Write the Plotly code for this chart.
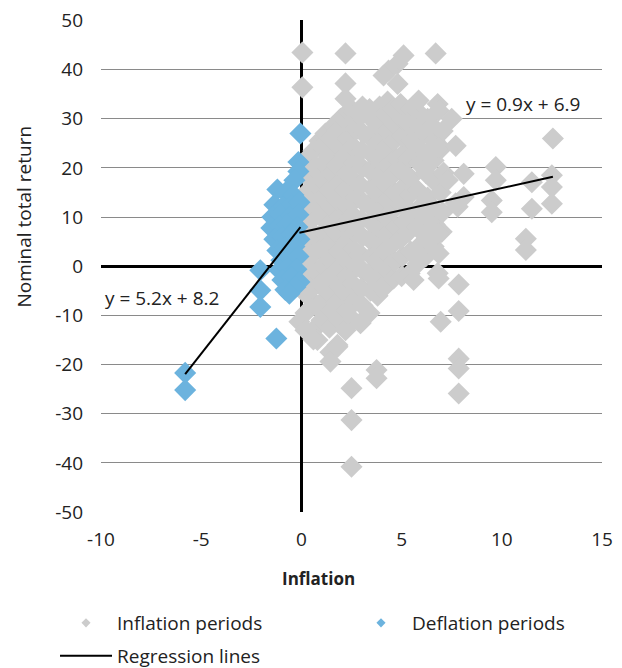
import plotly.graph_objects as go

# ---------------- data ----------------
inflation_x = [
    0.2, 0.3, 0.1, 0.25, 0.2, 0.3, 0.15, 0.25, 0.2, 0.3,
    0.6, 0.7, 0.55, 0.65, 0.6, 0.7, 0.55, 0.6, 0.7, 0.65, 0.6, 0.9,
    0.8, 1.0, 1.1, 0.95, 1.05, 1.0, 1.1, 0.95, 1.05, 1.0, 1.1, 1.0, 1.2,
    1.45, 1.4, 1.5, 1.35, 1.45, 1.4, 1.5, 1.35, 1.45, 1.4, 1.5, 1.35, 1.45, 1.6,
    1.8, 1.85, 1.75, 1.9, 1.8, 1.85, 1.75, 1.9, 1.8, 1.85, 1.75, 1.9, 1.8, 1.95,
    2.2, 2.25, 2.15, 2.3, 2.2, 2.25, 2.15, 2.3, 2.2, 2.25, 2.15, 2.3, 2.2, 2.35,
    2.6, 2.65, 2.55, 2.7, 2.6, 2.65, 2.55, 2.7, 2.6, 2.65, 2.55, 2.7, 2.6,
    2.95, 3.05, 3.0, 3.1, 2.95, 3.05, 3.0, 3.1, 2.95, 3.05, 3.0, 3.1, 2.95, 3.05,
    3.4, 3.45, 3.35, 3.5, 3.4, 3.45, 3.35, 3.5, 3.4, 3.45, 3.35, 3.5, 3.4,
    3.8, 3.85, 3.75, 3.9, 3.8, 3.85, 3.75, 3.9, 3.8, 3.85, 3.75, 3.9,
    4.2, 4.25, 4.15, 4.3, 4.2, 4.25, 4.15, 4.3, 4.2, 4.25, 4.15, 4.3,
    4.6, 4.65, 4.55, 4.7, 4.6, 4.65, 4.55, 4.7, 4.6, 4.65, 4.55,
    5.0, 5.05, 4.95, 5.1, 5.0, 5.05, 4.95, 5.1, 5.0, 5.05, 4.95,
    5.4, 5.45, 5.35, 5.5, 5.4, 5.45, 5.35, 5.5, 5.4, 5.45,
    5.8, 5.85, 5.75, 5.9, 5.8, 5.85, 5.75, 5.9, 5.8,
    6.2, 6.25, 6.15, 6.3, 6.2, 6.25, 6.15, 6.3,
    6.6, 6.65, 6.55, 6.7, 6.6, 6.65, 6.55,
    7.0, 7.05, 6.95, 7.1, 7.0, 7.05,
    0.05, 0.05, 2.2, 2.2, 2.2, 5.1, 4.8, 4.35, 4.1, 4.8, 5.85, 6.7, 6.8, 6.85,
    7.5, 6.85, 7.3, 7.8, 8.1, 8.1, 7.7, 7.7, 9.7, 9.7, 9.5, 9.5, 11.5, 11.5,
    12.55, 12.5, 12.5, 12.5, 11.2, 11.2, 6.85, 6.85, 6.8, 6.85, 7.85, 7.85,
    6.95, 7.85, 7.85, 7.85, 2.5, 2.5, 2.5, 3.75, 3.75, 2.95, 1.45, 0.6, 1.8,
    -0.1, 0.2, 5.6, 4.0,
]
inflation_y = [
    -9.5, -6, -2.5, 1, 4.5, 8, 11.5, 15, 18.5, 22,
    -13, -8, -4.5, -1, 2.5, 6, 9.5, 13, 16.5, 20, 23.5, 25.5,
    -15, -11, -7, -3.5, 0, 3.5, 7, 10.5, 14, 17.5, 21, 24.5, 27,
    -17.5, -12.5, -9, -5.5, -2, 1.5, 5, 8.5, 12, 15.5, 19, 22.5, 26, 28.5,
    -16, -11, -7.5, -4, -0.5, 3, 6.5, 10, 13.5, 17, 20.5, 24, 27.5, 30,
    -13, -9, -5.5, -2, 1.5, 5, 8.5, 12, 15.5, 19, 22.5, 26, 29.5, 31.5,
    -11, -7, -3.5, 0, 3.5, 7, 10.5, 14, 17.5, 21, 24.5, 28, 31.5,
    -11.5, -8, -4.5, -1, 2.5, 6, 9.5, 13, 16.5, 20, 23.5, 27, 30.5, 32.5,
    -9.5, -5, -1.5, 2, 5.5, 9, 12.5, 16, 19.5, 23, 26.5, 30, 32,
    -6, -2.5, 1, 4.5, 8, 11.5, 15, 18.5, 22, 25.5, 29, 32.5,
    -4, -0.5, 3, 6.5, 10, 13.5, 17, 20.5, 24, 27.5, 31, 33.5,
    -2.5, 1, 4.5, 8, 11.5, 15, 18.5, 22, 25.5, 29, 32,
    -2, 2, 5.5, 9, 12.5, 16, 19.5, 23, 26.5, 30, 33,
    -1.5, 3, 7, 11, 14.5, 18, 22, 25.5, 29, 32,
    0.5, 4, 8, 12, 15.5, 21, 24.5, 28, 31.5,
    2, 6, 9.5, 14, 19, 23, 27, 30,
    4, 8.5, 12, 17, 21.5, 25.5, 28.5,
    7, 11, 15, 19, 24, 27.5,
    43.5, 36.4, 43.3, 37.2, 34.1, 42.9, 41.2, 39.8, 38.8, 37.1, 33.7, 43.3, 33.0, 31.7,
    30.0, 24.2, 17.5, 12.1, 18.8, 14.1, 12.8, 24.5, 20.2, 17.5, 13.4, 11.0, 17.1, 11.7,
    26.0, 18.5, 16.1, 12.7, 5.6, 3.3, 6.6, 2.6, -1.4, -2.5, -3.7, -9.1,
    -11.3, -18.8, -20.8, -25.9, -24.8, -31.3, -40.8, -21.1, -22.8, -11.6, -19.4, -14.9, -16.4,
    -11.3, -13.0, -2.8, -4.5,
]

deflation_x = [
    -0.05, -0.15, -0.15, -0.35, -1.2, -0.8, -0.4, -1.35, -0.95, -0.5, -0.1,
    -1.45, -1.05, -0.6, -0.15, -1.5, -1.1, -0.7, -0.2, -1.35, -0.95, -0.5, -0.1,
    -1.2, -0.8, -0.35, -1.0, -0.6, -0.15, -1.1, -0.7, -0.25, -0.95, -0.5, -0.1,
    -0.8, -0.3, -0.6, -2.05, -2.05, -2.05, -1.25, -5.8, -5.8,
]
deflation_y = [
    27.0, 21.2, 19.3, 17.5, 15.6, 15.0, 14.5, 12.5, 12.0, 12.5, 13.0,
    10.0, 10.5, 10.0, 10.5, 7.8, 8.2, 8.5, 8.0, 5.5, 6.0, 6.5, 5.5,
    3.2, 3.8, 4.0, 1.2, 1.8, 2.0, -0.8, -0.3, -0.6, -2.8, -2.2, -3.2,
    -4.8, -4.2, -5.6, -0.8, -4.9, -8.3, -14.7, -21.7, -25.2,
]

series_names = ["Inflation periods", "Deflation periods", "Regression lines"]
reg_slopes = [5.2, 0.9]          # deflation, inflation
reg_intercepts = [8.2, 6.9]
reg_labels = ["y = 5.2x + 8.2", "y = 0.9x + 6.9"]

x_ticks = [-10, -5, 0, 5, 10, 15]
y_ticks = [-50, -40, -30, -20, -10, 0, 10, 20, 30, 40, 50]

# ---------------- style ----------------
GREY = "#cccccc"
BLUE = "#6cb3de"
FONT = "Open Sans"
TXT = "#222222"
FS = 19

fig = go.Figure()

fig.add_trace(go.Scatter(
    x=inflation_x, y=inflation_y, mode="markers", showlegend=False,
    marker=dict(symbol="diamond", size=17, color=GREY, line=dict(width=0)),
    hoverinfo="skip"))
fig.add_trace(go.Scatter(
    x=deflation_x, y=deflation_y, mode="markers", showlegend=False,
    marker=dict(symbol="diamond", size=17, color=BLUE, line=dict(width=0)),
    hoverinfo="skip"))

# regression lines over the data range of each group
ranges = [(min(deflation_x), max(deflation_x)), (min(inflation_x), max(inflation_x))]
for (x0, x1), m, b in zip(ranges, reg_slopes, reg_intercepts):
    xs = [x0, x1]
    fig.add_trace(go.Scatter(
        x=xs, y=[m * v + b for v in xs], mode="lines", showlegend=False,
        line=dict(color="black", width=2), hoverinfo="skip"))

# legend entries (one legend per entry, placed like the reference)
fig.add_trace(go.Scatter(x=[None], y=[None], mode="markers", name=series_names[0],
                         legend="legend",
                         marker=dict(symbol="diamond", size=7, color=GREY)))
fig.add_trace(go.Scatter(x=[None], y=[None], mode="markers", name=series_names[1],
                         legend="legend2",
                         marker=dict(symbol="diamond", size=7, color=BLUE)))
fig.add_trace(go.Scatter(x=[None], y=[None], mode="lines", name=series_names[2],
                         legend="legend3",
                         line=dict(color="black", width=2)))

# equation labels
fig.add_annotation(x=-9.9, y=-6.4, text=reg_labels[0], showarrow=False,
                   xanchor="left", yanchor="middle", font=dict(family=FONT, size=FS, color=TXT))
fig.add_annotation(x=8.1, y=33.0, text=reg_labels[1], showarrow=False,
                   xanchor="left", yanchor="middle", font=dict(family=FONT, size=FS, color=TXT))

# axis titles as annotations (offset positions like the reference)
fig.add_annotation(xref="paper", yref="paper", x=-0.1537, y=0.6006, text="Nominal total return",
                   textangle=-90, showarrow=False, xanchor="center", yanchor="middle",
                   font=dict(family=FONT, size=FS, color=TXT))
fig.add_annotation(xref="paper", yref="paper", x=0.435, y=-0.136, text="<b>Inflation</b>",
                   showarrow=False, xanchor="center", yanchor="middle",
                   font=dict(family=FONT, size=17, color=TXT))

fig.update_xaxes(range=[-10, 15], tickvals=x_ticks, ticktext=[str(v) for v in x_ticks],
                 showgrid=False, zeroline=True, automargin=False,
                 zerolinecolor="black", zerolinewidth=2.5, showline=False, ticks="",
                 ticklabelstandoff=14, ticklabeloverflow="allow",
                 tickfont=dict(family=FONT, size=FS, color=TXT))
fig.update_yaxes(range=[-50, 50.1], tickvals=y_ticks, ticktext=[str(v) for v in y_ticks],
                 showgrid=True, gridcolor="#8a8a8a", automargin=False,
                 gridwidth=1, zeroline=True, zerolinecolor="black", zerolinewidth=2.5,
                 showline=False, ticks="", ticklabelstandoff=17, ticklabeloverflow="allow",
                 tickfont=dict(family=FONT, size=FS, color=TXT))

leg_common = dict(orientation="h", xanchor="left", yanchor="middle", itemwidth=52,
                  font=dict(family=FONT, size=FS, color=TXT), bgcolor="rgba(0,0,0,0)",
                  borderwidth=0)
# the page body adds an 8px offset, so the figure is 8px smaller and margins shifted
fig.update_layout(
    template="none",
    width=614, height=660,
    margin=dict(l=93, r=20, t=12, b=156, autoexpand=False),
    paper_bgcolor="white", plot_bgcolor="white",
    font=dict(family=FONT, size=FS, color=TXT),
    legend=dict(x=-0.0918, y=-0.2256, **leg_common),
    legend2=dict(x=0.497, y=-0.2256, **leg_common),
    legend3=dict(x=-0.0918, y=-0.2927, **leg_common),
    showlegend=True,
)

fig.write_html("out.html")
